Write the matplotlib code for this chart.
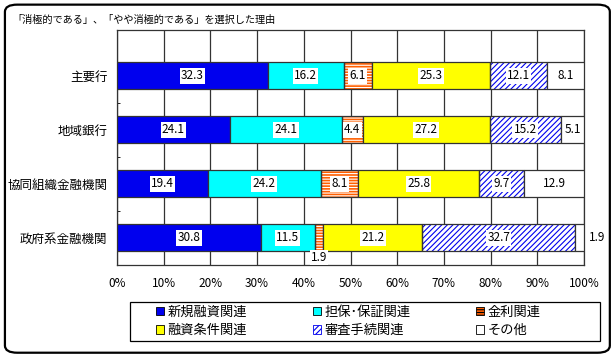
import matplotlib.pyplot as plt
from matplotlib.patches import FancyBboxPatch, Patch, Rectangle
import numpy as np

plt.rcParams['font.family'] = ['Noto Sans CJK JP', 'DejaVu Sans']
plt.rcParams['hatch.linewidth'] = 0.8

title = "「消極的である」、「やや消極的である」を選択した理由"
categories = ["主要行", "地域銀行", "協同組織金融機関", "政府系金融機関"]
series = ["新規融資関連", "担保･保証関連", "金利関連", "融資条件関連", "審査手続関連", "その他"]
shinki = [32.3, 24.1, 19.4, 30.8]
tanpo = [16.2, 24.1, 24.2, 11.5]
kinri = [6.1, 4.4, 8.1, 1.9]
joken = [25.3, 27.2, 25.8, 21.2]
shinsa = [12.1, 15.2, 9.7, 32.7]
sonota = [8.1, 5.1, 12.9, 1.9]
values = [shinki, tanpo, kinri, joken, shinsa, sonota]

# face, hatch, hatch colour
styles = [
    ("#0000EE", None, None),
    ("#00FFFF", None, None),
    ("#FF5F00", "------", "white"),
    ("#FFFF00", None, None),
    ("white", "//////", "#0000EE"),
    ("white", None, None),
]

fig = plt.figure(figsize=(6.16, 3.57), dpi=100)
ax = fig.add_axes([0.190, 0.258, 0.758, 0.658])

# rounded outer frame
fig.patches.append(FancyBboxPatch((0.008, 0.012), 0.982, 0.975,
                                  boxstyle="round,pad=0,rounding_size=0.02",
                                  transform=fig.transFigure, fill=False,
                                  edgecolor="black", linewidth=1.6))

y = np.arange(len(categories))
h = 0.5
left = np.zeros(len(categories))
for vals, (fc, hatch, hc) in zip(values, styles):
    vals = np.array(vals)
    if hatch:
        ax.barh(y, vals, h, left=left, color=fc, hatch=hatch,
                edgecolor=hc, linewidth=0, zorder=2)
        ax.barh(y, vals, h, left=left, color="none",
                edgecolor="#333333", linewidth=0.9, zorder=3)
    else:
        ax.barh(y, vals, h, left=left, color=fc,
                edgecolor="#333333", linewidth=0.9, zorder=3)
    for i, v in enumerate(vals):
        cx = left[i] + v / 2
        cy = y[i]
        ha = "center"
        if i == 3 and v < 3:
            if fc == "white":
                cx = left[i] + v + 1.0
                ha = "left"
            else:
                cy = y[i] + 0.36
        ax.text(cx, cy, f"{v:.1f}", ha=ha, va="center", fontsize=8.5,
                zorder=5, clip_on=False,
                bbox=dict(boxstyle="square,pad=0.1", fc="white", ec="none"))
    left += vals

ax.set_xlim(0, 100)
ax.set_ylim(3.5, -0.85)
ax.set_xticks(np.arange(0, 101, 10))
ax.set_xticklabels([f"{t}%" for t in range(0, 101, 10)], fontsize=8.5)
ax.set_yticks(y)
ax.set_yticklabels(categories, fontsize=9)
ax.set_yticks([0.5, 1.5, 2.5], minor=True)
ax.tick_params(axis="y", which="major", length=0, pad=7)
ax.tick_params(axis="x", which="major", length=0, pad=9)
ax.tick_params(axis="y", which="minor", length=2, direction="in")
ax.xaxis.grid(True, color="#333333", linewidth=0.9, zorder=0)
ax.set_axisbelow(True)
for s in ax.spines.values():
    s.set_color("#333333")
    s.set_linewidth(0.9)

fig.text(0.02, 0.944, title, fontsize=7.3, ha="left", va="center")

# legend frame
fig.patches.append(Rectangle((0.211, 0.045), 0.763, 0.109, transform=fig.transFigure,
                             fill=False, edgecolor="black", linewidth=0.9))
handles = []
for name, (fc, hatch, hc) in zip(series, styles):
    if hatch:
        handles.append(Patch(facecolor=fc, hatch=hatch, edgecolor=hc if hc != "white" else "black",
                             linewidth=0.6, label=name))
    else:
        handles.append(Patch(facecolor=fc, edgecolor="black", linewidth=0.6, label=name))
order = [0, 3, 1, 4, 2, 5]
leg = fig.legend([handles[i] for i in order], [series[i] for i in order],
                 ncol=3, loc="center left",
                 bbox_to_anchor=(0.254, 0.0995),
                 bbox_transform=fig.transFigure, fontsize=9.5,
                 frameon=False,
                 handlelength=0.6, handleheight=0.6, handletextpad=0.25,
                 borderpad=0, labelspacing=0.4, columnspacing=5.0,
                 borderaxespad=0)

fig.savefig("out.png", dpi=100)
